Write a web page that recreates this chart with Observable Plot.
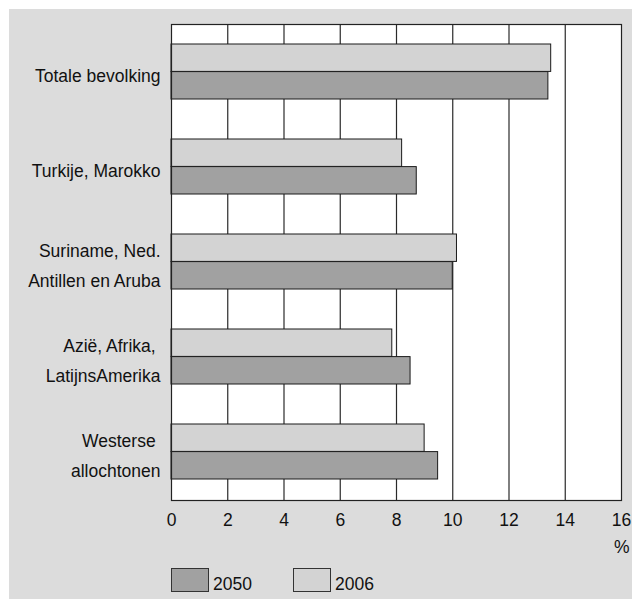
<!DOCTYPE html>
<html>
<head>
<meta charset="utf-8">
<script src="https://cdn.jsdelivr.net/npm/d3@7"></script>
<script src="https://cdn.jsdelivr.net/npm/@observablehq/plot@0.6"></script>
<style>
  html, body { margin: 0; padding: 0; background: #ffffff; }
  #panel { position: absolute; left: 9px; top: 9px; width: 623px; height: 590px; background: #dcdcdc;
           font-family: "Liberation Sans", Arial, sans-serif; color: #111; }
  #legend { position: absolute; left: 0; top: 559px; height: 24px; width: 100%; }
  .sw { position: absolute; top: 0; width: 38px; height: 24px; box-sizing: border-box; border: 1px solid #333; }
  .lb { position: absolute; top: 4px; font-size: 17.5px; line-height: 24px; }
</style>
</head>
<body>
<div id="panel">
  <div id="chart"></div>
  <div id="legend"></div>
</div>
<script>
const categories = [
  "Totale bevolking",
  "Turkije, Marokko",
  "Suriname, Ned.\nAntillen en Aruba",
  "Azië, Afrika,\u00a0\nLatijnsAmerika",
  "Westerse\u00a0\nallochtonen"
];
const values2006 = [13.5, 8.2, 10.15, 7.85, 9.0];
const values2050 = [13.4, 8.72, 10.0, 8.5, 9.48];
const xTicks = [0, 2, 4, 6, 8, 10, 12, 14, 16];
const gridTicks = [2, 4, 6, 8, 10, 12, 14];
const seriesNames = ["2050", "2006"];
const seriesColors = {"2050": "#a1a1a1", "2006": "#d3d3d3"};

const rows2006 = categories.map((c, i) => ({cat: c, value: values2006[i]}));
const rows2050 = categories.map((c, i) => ({cat: c, value: values2050[i]}));

const half = 27.6;

const chart = Plot.plot({
  width: 623,
  height: 546,
  marginLeft: 162,
  marginRight: 11,
  marginTop: 15,
  marginBottom: 55,
  style: {background: "transparent", fontFamily: "'Liberation Sans', Arial, sans-serif", fontSize: "17.5px", color: "#111", overflow: "visible"},
  x: {domain: [0, 16]},
  y: {domain: categories, paddingInner: 0.42, paddingOuter: 0.21, axis: null},
  marks: [
    Plot.frame({fill: "#ffffff", stroke: "none"}),
    Plot.ruleX(gridTicks, {stroke: "#2a2a2a", strokeWidth: 1.2}),
    Plot.barX(rows2050, {y: "cat", x: "value", fill: seriesColors["2050"], stroke: "#1a1a1a", strokeWidth: 1, insetTop: half}),
    Plot.barX(rows2006, {y: "cat", x: "value", fill: seriesColors["2006"], stroke: "#1a1a1a", strokeWidth: 1, insetBottom: half}),
    Plot.frame({stroke: "#222", strokeWidth: 1.2}),
    Plot.text(categories, {y: d => d, text: d => d, frameAnchor: "left", dx: -11, textAnchor: "end", lineAnchor: "middle", lineHeight: 1.71, fill: "#111"}),
    Plot.axisX({ticks: xTicks, tickSize: 0, tickPadding: 13, label: "%", labelAnchor: "right", labelArrow: "none", labelOffset: 52, fill: "#111"})
  ]
});
document.getElementById("chart").appendChild(chart);

const legend = document.getElementById("legend");
const swLeft = {"2050": 162, "2006": 284};
seriesNames.forEach(name => {
  const sw = document.createElement("div");
  sw.className = "sw";
  sw.style.left = swLeft[name] + "px";
  sw.style.background = seriesColors[name];
  legend.appendChild(sw);
  const lb = document.createElement("div");
  lb.className = "lb";
  lb.style.left = (swLeft[name] + 42) + "px";
  lb.textContent = name;
  legend.appendChild(lb);
});
</script>
</body>
</html>
